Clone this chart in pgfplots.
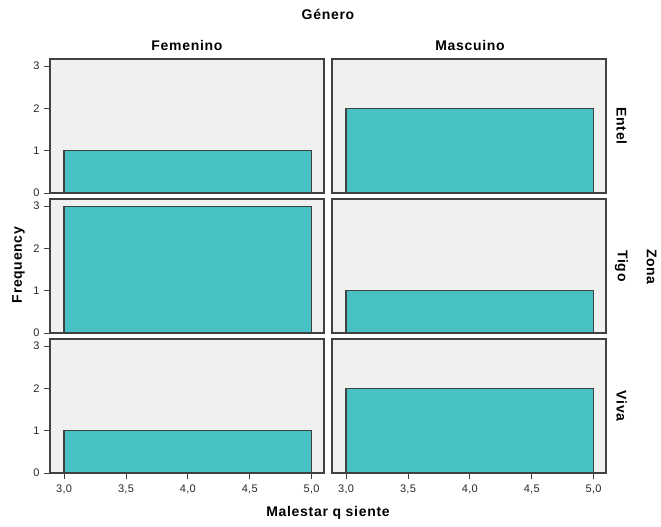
\documentclass[border=0pt]{standalone}
\usepackage{fontspec}
\setmainfont{Liberation Sans}
\newfontfamily\spaced[LetterSpace=5]{Liberation Sans}
\newfontfamily\tickfont[LetterSpace=3]{Liberation Sans}
\usepackage{pgfplots}
\pgfplotsset{compat=1.18}
\definecolor{barc}{RGB}{72,193,197}
\definecolor{panelbg}{RGB}{240,240,240}
\definecolor{framec}{RGB}{65,65,65}
\pgfplotsset{
  panel/.style={
    scale only axis, width=274pt, height=134pt,
    xmin=2.886, xmax=5.1, ymin=0, ymax=3.17,
    anchor=north west,
    axis background/.style={fill=panelbg},
    axis line style={framec, line width=1.3pt},
    tick style={framec, line width=0.9pt},
    tick align=outside, major tick length=6pt,
    xtick pos=bottom, ytick pos=left,
    xtick={3,3.5,4,4.5,5}, ytick={0,1,2,3},
    /pgf/number format/assume math mode=true,
    tick label style={font=\tickfont\fontsize{11}{12}\selectfont, text=black!85},
    xticklabel style={yshift=-2pt, /pgf/number format/.cd, use comma, fixed, fixed zerofill, precision=1},
    yticklabel style={xshift=-1pt, /pgf/number format/.cd, fixed, precision=0},
  },
  notx/.style={xticklabels={}, xtick=\empty},
  noty/.style={yticklabels={}, ytick=\empty},
  bar/.style={fill=barc, draw=framec, line width=1.3pt},
}
\begin{document}
\begin{tikzpicture}
\path[use as bounding box] (0,0) rectangle (661pt,-527pt);
% Row 1: Entel
\begin{axis}[panel, notx, at={(50pt,-59pt)}]
\addplot[bar] coordinates {(3,1) (5,1)} \closedcycle;
\end{axis}
\begin{axis}[panel, notx, noty, at={(332pt,-59pt)}]
\addplot[bar] coordinates {(3,2) (5,2)} \closedcycle;
\end{axis}
% Row 2: Tigo
\begin{axis}[panel, notx, at={(50pt,-199pt)}]
\addplot[bar] coordinates {(3,3) (5,3)} \closedcycle;
\end{axis}
\begin{axis}[panel, notx, noty, at={(332pt,-199pt)}]
\addplot[bar] coordinates {(3,1) (5,1)} \closedcycle;
\end{axis}
% Row 3: Viva
\begin{axis}[panel, at={(50pt,-339pt)}]
\addplot[bar] coordinates {(3,1) (5,1)} \closedcycle;
\end{axis}
\begin{axis}[panel, noty, at={(332pt,-339pt)}]
\addplot[bar] coordinates {(3,2) (5,2)} \closedcycle;
\end{axis}
% titles
\begin{scope}[every node/.style={font=\spaced\fontsize{14}{16}\selectfont\bfseries, inner sep=0pt}]
\node at (328pt,-14pt) {Género};
\node at (187pt,-45.5pt) {Femenino};
\node at (470pt,-45.5pt) {Mascuino};
\node[rotate=-90] at (621.5pt,-126pt) {Entel};
\node[rotate=-90] at (621.5pt,-266pt) {Tigo};
\node[rotate=-90] at (621.5pt,-406pt) {Viva};
\node[rotate=-90] at (651.5pt,-267pt) {Zona};
\node[rotate=90] at (18.5pt,-265pt) {Frequency};
\node at (328pt,-513pt) {Malestar q siente};
\end{scope}
\end{tikzpicture}
\end{document}
